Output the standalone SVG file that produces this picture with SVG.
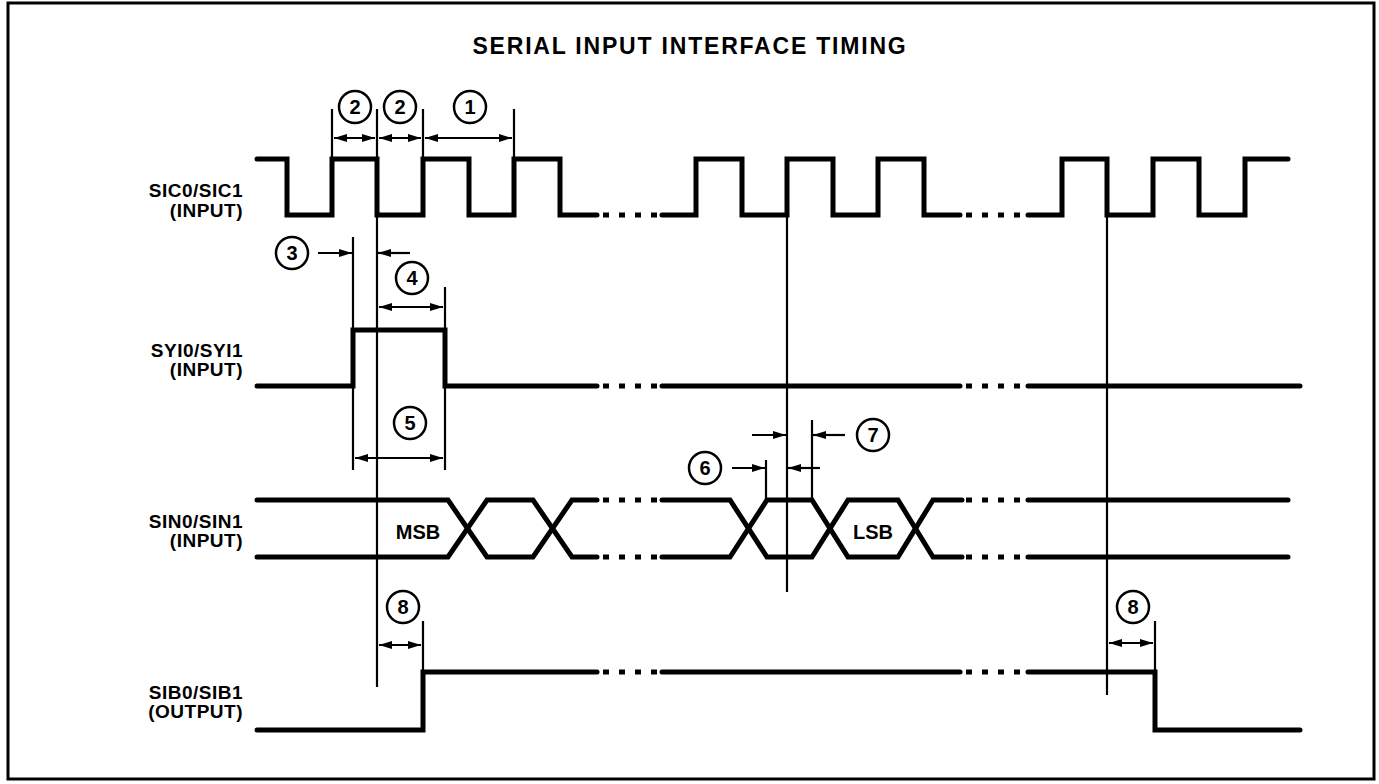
<svg xmlns="http://www.w3.org/2000/svg" width="1379" height="784" viewBox="0 0 1379 784">
<style>
.bg{fill:#fff}
.frame{fill:none;stroke:#000;stroke-width:3}
.wave{fill:none;stroke:#000;stroke-width:5;stroke-linejoin:miter;stroke-linecap:round}
.dots{fill:none;stroke:#000;stroke-width:5;stroke-dasharray:6 10}
.thin{fill:none;stroke:#000;stroke-width:2.2}
.dim{fill:none;stroke:#000;stroke-width:2.2}
.circ{fill:#fff;stroke:#000;stroke-width:2.5}
.t{font-family:"Liberation Sans",Arial,sans-serif;font-weight:bold;fill:#000}
.lbl{font-size:19px;letter-spacing:0.5px;text-anchor:end}
.num{font-size:20px;text-anchor:middle}
.title{font-size:23px;letter-spacing:1.8px;text-anchor:middle}
.bit{font-size:20px;text-anchor:middle}
</style>
<defs>
<marker id="ah" markerWidth="13" markerHeight="8" refX="13" refY="4" orient="auto-start-reverse" markerUnits="userSpaceOnUse"><path d="M0,0 L13,4 L0,8 z" fill="#000"/></marker>
</defs>
<rect class="bg" x="0" y="0" width="1379" height="784"/>
<rect class="frame" x="8" y="3" width="1366" height="776"/>
<text class="t title" x="690" y="54">SERIAL INPUT INTERFACE TIMING</text>

<g id="labels">
<text class="t lbl" x="243" y="197">SIC0/SIC1</text>
<text class="t lbl" x="243" y="217">(INPUT)</text>
<text class="t lbl" x="243" y="357">SYI0/SYI1</text>
<text class="t lbl" x="243" y="376">(INPUT)</text>
<text class="t lbl" x="243" y="528">SIN0/SIN1</text>
<text class="t lbl" x="243" y="547">(INPUT)</text>
<text class="t lbl" x="243" y="699">SIB0/SIB1</text>
<text class="t lbl" x="243" y="718">(OUTPUT)</text>
</g>

<g id="sic">
<path class="wave" d="M257,159 H287 V215 H332 V159 H377 V215 H423 V159 H469 V215 H514 V159 H560 V215 H597"/>
<path class="dots" d="M603,215 H660"/>
<path class="wave" d="M662,215 H696 V159 H742 V215 H787 V159 H833 V215 H878 V159 H924 V215 H960"/>
<path class="dots" d="M966,215 H1025"/>
<path class="wave" d="M1028,215 H1062 V159 H1107 V215 H1153 V159 H1199 V215 H1245 V159 H1288"/>
</g>

<g id="syi">
<path class="wave" d="M257,386 H353 V330 H445 V386 H597"/>
<path class="dots" d="M603,386 H660"/>
<path class="wave" d="M662,386 H960"/>
<path class="dots" d="M966,386 H1025"/>
<path class="wave" d="M1028,386 H1300"/>
</g>

<g id="sin">
<path class="wave" d="M257,500 H448 L487,557 H533 L572,500 H597"/>
<path class="wave" d="M257,557 H448 L487,500 H533 L572,557 H597"/>
<path class="dots" d="M603,500 H660 M603,557 H660"/>
<path class="wave" d="M662,500 H730 L767,557 H812 L848,500 H898 L933,557 H962"/>
<path class="wave" d="M662,557 H730 L767,500 H812 L848,557 H898 L933,500 H962"/>
<path class="dots" d="M966,500 H1025 M966,557 H1025"/>
<path class="wave" d="M1028,500 H1288 M1028,557 H1288"/>
<text class="t bit" x="418" y="539">MSB</text>
<text class="t bit" x="873" y="539">LSB</text>
</g>

<g id="sib">
<path class="wave" d="M257,730 H423 V672 H597"/>
<path class="dots" d="M603,672 H660"/>
<path class="wave" d="M662,672 H960"/>
<path class="dots" d="M966,672 H1025"/>
<path class="wave" d="M1028,672 H1155 V730 H1300"/>
</g>

<g id="connectors">
<path class="thin" d="M377,109 V687 M787,159 V592 M1107,159 V695"/>
<path class="thin" d="M332,109 V159 M423,109 V159 M514,109 V159 M353,237 V470 M445,287 V470 M766,460 V500 M812,420 V500 M423,621 V672 M1155,621 V672"/>
<path class="dim" d="M334,138 H375" marker-start="url(#ah)" marker-end="url(#ah)"/>
<path class="dim" d="M379,138 H421" marker-start="url(#ah)" marker-end="url(#ah)"/>
<path class="dim" d="M425,138 H512" marker-start="url(#ah)" marker-end="url(#ah)"/>
<path class="dim" d="M318,253 H352" marker-end="url(#ah)"/>
<path class="dim" d="M410,253 H378" marker-end="url(#ah)"/>
<path class="dim" d="M379,307 H443" marker-start="url(#ah)" marker-end="url(#ah)"/>
<path class="dim" d="M355,458 H443" marker-start="url(#ah)" marker-end="url(#ah)"/>
<path class="dim" d="M752,435 H786" marker-end="url(#ah)"/>
<path class="dim" d="M845,435 H813" marker-end="url(#ah)"/>
<path class="dim" d="M732,468 H765" marker-end="url(#ah)"/>
<path class="dim" d="M820,468 H788" marker-end="url(#ah)"/>
<path class="dim" d="M379,645 H421" marker-start="url(#ah)" marker-end="url(#ah)"/>
<path class="dim" d="M1109,643 H1153" marker-start="url(#ah)" marker-end="url(#ah)"/>
</g>

<g id="n2a"><circle class="circ" cx="355" cy="107" r="16"/><text class="t num" x="355" y="114">2</text></g>
<g id="n2b"><circle class="circ" cx="400" cy="107" r="16"/><text class="t num" x="400" y="114">2</text></g>
<g id="n1"><circle class="circ" cx="470" cy="107" r="16"/><text class="t num" x="470" y="114">1</text></g>
<g id="n3"><circle class="circ" cx="292" cy="253" r="16"/><text class="t num" x="292" y="260">3</text></g>
<g id="n4"><circle class="circ" cx="412" cy="278" r="16"/><text class="t num" x="412" y="285">4</text></g>
<g id="n5"><circle class="circ" cx="410" cy="423" r="16"/><text class="t num" x="410" y="430">5</text></g>
<g id="n6"><circle class="circ" cx="705" cy="468" r="16"/><text class="t num" x="705" y="475">6</text></g>
<g id="n7"><circle class="circ" cx="873" cy="435" r="16"/><text class="t num" x="873" y="442">7</text></g>
<g id="n8a"><circle class="circ" cx="403" cy="607" r="16"/><text class="t num" x="403" y="614">8</text></g>
<g id="n8b"><circle class="circ" cx="1133" cy="607" r="16"/><text class="t num" x="1133" y="614">8</text></g>
</svg>
